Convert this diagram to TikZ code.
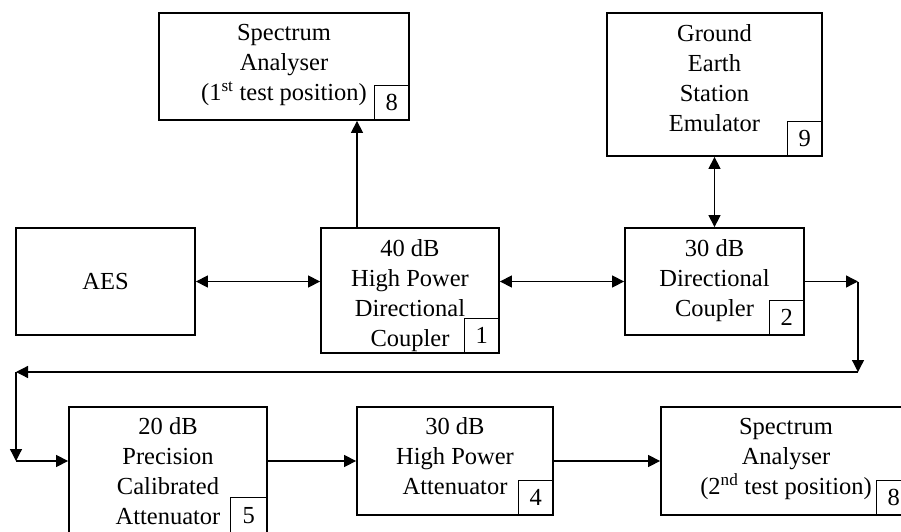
\documentclass[tikz,border=0pt]{standalone}
\usepackage{fontspec}
\setmainfont{Liberation Serif}
\usetikzlibrary{arrows.meta}
\tikzset{
  blockbox/.style={draw, line width=1.8pt, inner sep=0pt},
  blocktext/.style={anchor=north, align=center, inner sep=0pt,
    font=\fontsize{24.5pt}{30pt}\selectfont},
  numbox/.style={draw, line width=1.3pt, anchor=south east, minimum size=35pt,
    inner sep=0pt, font=\fontsize{24.5pt}{30pt}\selectfont},
  sig/.style={line width=1.3pt, -{Triangle[length=12pt,width=12pt]}},
  dsig/.style={line width=1.3pt, {Triangle[length=12pt,width=12pt]}-{Triangle[length=12pt,width=12pt]}}
}

\begin{document}
\begin{tikzpicture}[x=1pt, y=-1pt]
			%%%%% FRAME %%%%%
			\useasboundingbox (0,0) rectangle (901,532);
			\clip (0,0) rectangle (901,532);
			
			%%%%% TOP ROW %%%%%
			\node[blockbox, minimum width=250pt, minimum height=107pt] (sa1) at (284,66.5) {};
			\node[blocktext] (sa1txt) at ([yshift=-12pt]sa1.north) {Spectrum\\Analyser\\(1\textsuperscript{st} test position)};
			\node[numbox] (sa1no) at (sa1.south east) {8};
			
			\node[blockbox, minimum width=215pt, minimum height=143pt] (ges) at (714.5,84.5) {};
			\node[blocktext] (gestxt) at ([yshift=-12pt]ges.north) {Ground\\Earth\\Station\\Emulator};
			\node[numbox] (gesno) at (ges.south east) {9};
			
			%%%%% MIDDLE ROW %%%%%
			\node[blockbox, minimum width=179pt, minimum height=107pt,
				font=\fontsize{24.5pt}{30pt}\selectfont] (aes) at (105.5,281.5) {AES};
			
			\node[blockbox, minimum width=178pt, minimum height=125pt] (hpdc) at (410,290.5) {};
			\node[blocktext] (hpdctxt) at ([yshift=-12pt]hpdc.north) {40 dB\\High Power\\Directional\\Coupler};
			\node[numbox] (hpdcno) at (hpdc.south east) {1};
			
			\node[blockbox, minimum width=179pt, minimum height=107pt] (dc) at (714.5,281.5) {};
			\node[blocktext] (dctxt) at ([yshift=-12pt]dc.north) {30 dB\\Directional\\Coupler};
			\node[numbox] (dcno) at (dc.south east) {2};
			
			%%%%% BOTTOM ROW %%%%%
			\node[blockbox, minimum width=198pt, minimum height=127pt] (pca) at (168,470.5) {};
			\node[blocktext] (pcatxt) at ([yshift=-11pt]pca.north) {20 dB\\Precision\\Calibrated\\Attenuator};
			\node[numbox, minimum size=37pt] (pcano) at (pca.south east) {5};
			
			\node[blockbox, minimum width=196pt, minimum height=108pt] (hpa) at (455,461) {};
			\node[blocktext] (hpatxt) at ([yshift=-11pt]hpa.north) {30 dB\\High Power\\Attenuator};
			\node[numbox] (hpano) at (hpa.south east) {4};
			
			\node[blockbox, minimum width=250pt, minimum height=108pt] (sa2) at (786,461) {};
			\node[blocktext] (sa2txt) at ([yshift=-12pt]sa2.north) {Spectrum\\Analyser\\(2\textsuperscript{nd} test position)};
			\node[numbox] (sa2no) at (sa2.south east) {8};
			
			%%%%% LINKS %%%%%
			\coordinate (rtop) at (858,281.5);
			\coordinate (rbot) at (858,372);
			\coordinate (lbot) at (16,372);
			\coordinate (lin) at (16,461);
			
			\draw[sig] ([xshift=-53pt]hpdc.north) -- ([xshift=-53pt]hpdc.north |- sa1.south);
			\draw[dsig] (aes.east) -- (aes.east -| hpdc.west);
			\draw[dsig] (dc.west -| hpdc.east) -- (dc.west);
			\draw[dsig] (ges.south) -- (dc.north);
			
			\draw[sig] (dc.east) -- (rtop);
			\draw[sig] (rtop) -- (rbot);
			\draw[sig] (rbot) -- (lbot);
			\draw[sig] (lbot) -- (lin);
			\draw[sig] (lin) -- (lin -| pca.west);
			\draw[sig] (pca.east |- hpa.west) -- (hpa.west);
			\draw[sig] (hpa.east) -- (sa2.west);
			
			%%%%% END %%%%%
\end{tikzpicture}
\end{document}
